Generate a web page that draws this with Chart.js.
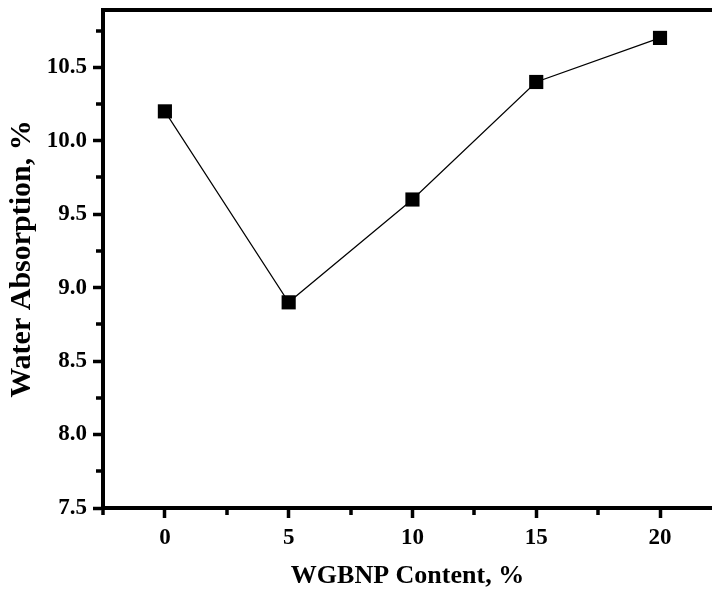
<!DOCTYPE html>
<html><head><meta charset="utf-8">
<script src="https://cdn.jsdelivr.net/npm/chart.js@4/dist/chart.umd.min.js"></script>
<style>html,body{margin:0;padding:0;background:#fff;overflow:hidden}#wrap{width:712px;height:592px;position:relative}</style>
</head><body><div id="wrap"><canvas id="c"></canvas></div>
<script>
const contentPct = [0, 5, 10, 15, 20];
const waterAbsorption = [10.2, 8.9, 9.6, 10.4, 10.7];
const xMajorTicks = [0, 5, 10, 15, 20];
const xMinorTicks = [-2.5, 2.5, 7.5, 12.5, 17.5];
const yMajorTicks = [7.5, 8.0, 8.5, 9.0, 9.5, 10.0, 10.5];
const yMinorTicks = [7.75, 8.25, 8.75, 9.25, 9.75, 10.25, 10.75];
const xLabel = 'WGBNP Content, %';
const yLabel = 'Water Absorption, %';

const FONT = '"Liberation Serif", "Times New Roman", serif';

const frame = {
  id: 'frame',
  afterDraw(chart) {
    const {ctx, chartArea: a, scales: {x, y}} = chart;
    ctx.save();
    ctx.strokeStyle = '#000';
    ctx.lineWidth = 4;
    ctx.beginPath();
    ctx.moveTo(a.left - 2, a.top);
    ctx.lineTo(a.right, a.top);
    ctx.stroke();
    ctx.lineWidth = 3.5;
    ctx.beginPath();
    xMinorTicks.forEach(v => {
      const px = Math.round(x.getPixelForValue(v));
      ctx.moveTo(px, a.bottom);
      ctx.lineTo(px, a.bottom + 7);
    });
    yMinorTicks.forEach(v => {
      const py = Math.round(y.getPixelForValue(v));
      ctx.moveTo(a.left, py);
      ctx.lineTo(a.left - 7, py);
    });
    ctx.stroke();
    ctx.restore();
  }
};

new Chart(document.getElementById('c'), {
  type: 'line',
  data: {
    datasets: [{
      data: contentPct.map((v, i) => ({x: v, y: waterAbsorption[i]})),
      borderColor: '#000',
      borderWidth: 1.2,
      backgroundColor: '#000',
      pointStyle: 'rect',
      pointRadius: 10,
      pointBorderWidth: 0,
      pointBackgroundColor: '#000',
      tension: 0,
      clip: false
    }]
  },
  options: {
    responsive: true,
    maintainAspectRatio: false,
    animation: false,
    events: [],
    layout: {autoPadding: false, padding: {top: 10, right: 0, left: 0, bottom: 0}},
    plugins: {legend: {display: false}, tooltip: {enabled: false}},
    scales: {
      x: {
        type: 'linear',
        min: -2.5,
        max: 22.1,
        afterBuildTicks: s => { s.ticks = xMajorTicks.map(v => ({value: v})); },
        afterFit: s => { s.height = 84; s.paddingLeft = 0; s.paddingRight = 0; },
        grid: {drawOnChartArea: false, drawTicks: true, tickLength: 10, tickWidth: 3.5, tickColor: '#000'},
        border: {display: true, color: '#000', width: 4},
        ticks: {
          autoSkip: false, maxRotation: 0, color: '#000', padding: 6,
          font: {family: FONT, size: 23, weight: 'bold'},
          callback: v => String(v)
        },
        title: {
          display: true, text: xLabel, color: '#000',
          font: {family: FONT, size: 26, weight: 'bold'},
          padding: {top: 0, bottom: 0}
        }
      },
      y: {
        type: 'linear',
        min: 7.5,
        max: 10.89,
        afterBuildTicks: s => { s.ticks = yMajorTicks.map(v => ({value: v})); },
        afterFit: s => { s.width = 103; s.paddingTop = 0; s.paddingBottom = 0; },
        grid: {drawOnChartArea: false, drawTicks: true, tickLength: 10, tickWidth: 3.5, tickColor: '#000'},
        border: {display: true, color: '#000', width: 4},
        ticks: {
          autoSkip: false, color: '#000', padding: 6,
          font: {family: FONT, size: 23, weight: 'bold'},
          callback: v => v.toFixed(1)
        },
        title: {
          display: true, text: yLabel, color: '#000',
          font: {family: FONT, size: 30, weight: 'bold'},
          padding: {top: 4, bottom: 0}
        }
      }
    }
  },
  plugins: [frame]
});
</script>
</body></html>
